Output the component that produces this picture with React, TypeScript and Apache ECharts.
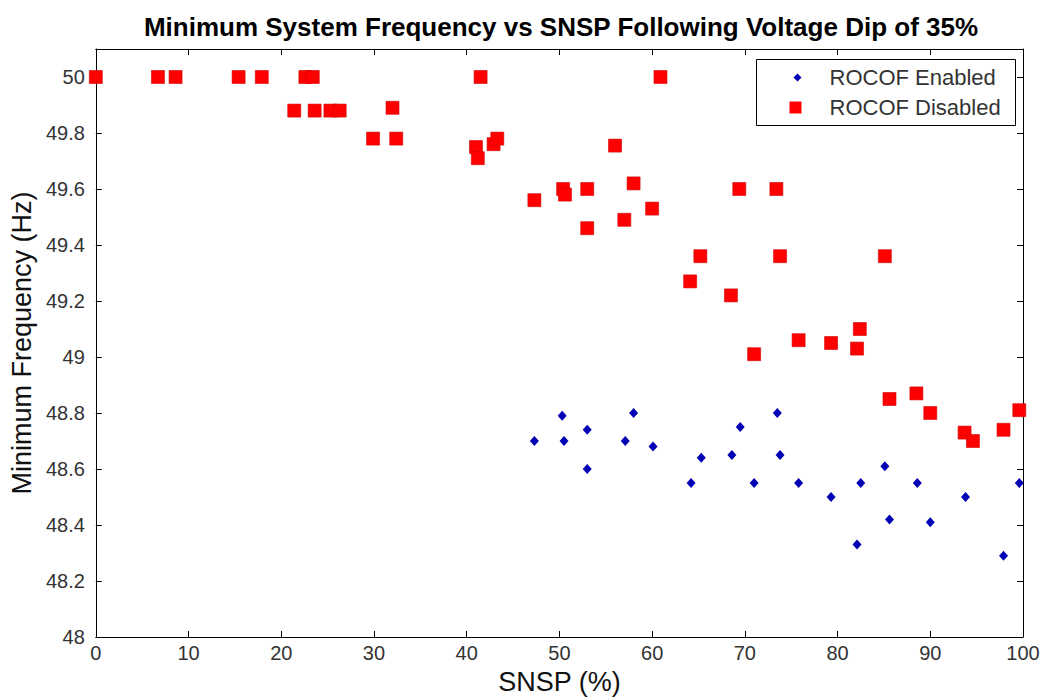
import React, { useEffect, useRef } from "react";
import * as echarts from "echarts";

const titleText = "Minimum System Frequency vs SNSP Following Voltage Dip of 35%";
const xName = "SNSP (%)";
const yName = "Minimum Frequency (Hz)";
const seriesNames = ["ROCOF Enabled", "ROCOF Disabled"];

const enabledX = [47.3, 50.3, 50.5, 53.0, 53.0, 58.0, 57.1, 60.1, 64.2, 65.3, 68.6, 69.5, 71.0, 73.5, 73.8, 75.8, 79.3, 82.1, 82.5, 85.1, 85.6, 88.6, 90.0, 93.8, 97.9, 99.6];
const enabledY = [48.70, 48.79, 48.70, 48.74, 48.60, 48.80, 48.70, 48.68, 48.55, 48.64, 48.65, 48.75, 48.55, 48.80, 48.65, 48.55, 48.50, 48.33, 48.55, 48.61, 48.42, 48.55, 48.41, 48.50, 48.29, 48.55];

const disabledX = [0, 6.7, 8.6, 15.4, 17.9, 22.6, 23.4, 21.4, 23.6, 25.3, 26.3, 32.0, 29.9, 32.4, 41.5, 60.9, 41.0, 41.2, 42.9, 43.3, 56.0, 47.3, 50.4, 50.6, 53.0, 53.0, 58.0, 57.0, 60.0, 65.2, 64.1, 68.5, 69.4, 73.4, 73.8, 85.1, 71.0, 75.8, 79.3, 82.4, 82.1, 85.6, 88.5, 90.0, 93.7, 94.6, 97.9, 99.6];
const disabledY = [50, 50, 50, 50, 50, 50, 50, 49.88, 49.88, 49.88, 49.88, 49.89, 49.78, 49.78, 50, 50, 49.75, 49.71, 49.76, 49.78, 49.755, 49.56, 49.60, 49.58, 49.60, 49.46, 49.62, 49.49, 49.53, 49.36, 49.27, 49.22, 49.60, 49.60, 49.36, 49.36, 49.01, 49.06, 49.05, 49.10, 49.03, 48.85, 48.87, 48.80, 48.73, 48.70, 48.74, 48.81];

const xMin = 0, xMax = 100, xStep = 10;
const yMin = 48, yMax = 50.1, yStep = 0.2;

const FONT = "'Liberation Sans', Arial, sans-serif";

export default function App() {
  const ref = useRef<HTMLDivElement>(null);
  useEffect(() => {
    if (!ref.current) return;
    document.body.style.margin = "0";
    const chart = echarts.init(ref.current, null, { renderer: "svg", width: 1046, height: 700 });
    const gridL = 91, gridR = 23, gridT = 49, gridB = 60;
    const tickCommon = { show: true, inside: true, length: 6, lineStyle: { color: "#000", width: 1 } };
    const lineCommon = { show: true, onZero: false, lineStyle: { color: "#000", width: 1 } };
    const yFmt = (v: number) => {
      const r = Math.round(v * 10) / 10;
      if (Math.abs(r - yMax) < 1e-6 && Math.abs(yMax * 5 - Math.round(yMax * 5)) > 1e-6) return "";
      return String(r);
    };
    const legX = 756, legY = 59, legW = 259, legH = 66;
    chart.setOption({
      animation: false,
      backgroundColor: "#fff",
      textStyle: { fontFamily: FONT },
      title: {
        text: titleText,
        left: 556,
        top: 9,
        textAlign: "center",
        textStyle: { fontFamily: FONT, fontWeight: "bold", fontSize: 26, color: "#000" },
      },
      grid: { left: gridL, right: gridR, top: gridT, bottom: gridB, containLabel: false },
      xAxis: [
        {
          type: "value", min: xMin, max: xMax, interval: xStep, position: "bottom",
          name: xName, nameLocation: "middle", nameGap: 31,
          nameTextStyle: { fontSize: 27, color: "#111", fontFamily: FONT },
          axisLine: lineCommon, axisTick: tickCommon, splitLine: { show: false },
          axisLabel: { fontSize: 20, color: "#333", margin: 6, fontFamily: FONT },
        },
        {
          type: "value", min: xMin, max: xMax, interval: xStep, position: "top",
          axisLine: lineCommon, axisTick: tickCommon, splitLine: { show: false },
          axisLabel: { show: false },
        },
      ],
      yAxis: [
        {
          type: "value", min: yMin, max: yMax, interval: yStep, position: "left",
          name: yName, nameLocation: "middle", nameGap: 55, nameRotate: 90,
          nameTextStyle: { fontSize: 27, color: "#111", fontFamily: FONT },
          axisLine: lineCommon, axisTick: tickCommon, splitLine: { show: false },
          axisLabel: { fontSize: 20, color: "#333", margin: 11, formatter: yFmt, fontFamily: FONT },
        },
        {
          type: "value", min: yMin, max: yMax, interval: yStep, position: "right",
          axisLine: lineCommon, axisTick: tickCommon, splitLine: { show: false },
          axisLabel: { show: false },
        },
      ],
      series: [
        {
          name: seriesNames[1], type: "scatter", symbol: "rect", symbolSize: 13,
          itemStyle: { color: "#ff0000", borderColor: "#d00000", borderWidth: 0.6, opacity: 1 },
          data: disabledX.map((x, i) => [x, disabledY[i]]),
          z: 2,
        },
        {
          name: seriesNames[0], type: "scatter", symbol: "diamond", symbolSize: [9, 10],
          itemStyle: { color: "#0000b4", opacity: 1 },
          data: enabledX.map((x, i) => [x, enabledY[i]]),
          z: 3,
        },
      ],
      graphic: [
        {
          type: "group", left: legX, top: legY,
          children: [
            { type: "rect", shape: { x: 0, y: 0, width: legW, height: legH }, style: { fill: "#fff", stroke: "#000", lineWidth: 1 } },
            { type: "polygon", shape: { points: [[41, 14], [45, 18], [41, 22], [37, 18]] }, style: { fill: "#0000b4" } },
            { type: "text", x: 73, y: 18, style: { text: seriesNames[0], fontSize: 22, fontFamily: FONT, fill: "#333", verticalAlign: "middle" } },
            { type: "rect", shape: { x: 33, y: 42, width: 12, height: 12 }, style: { fill: "#ff0000" } },
            { type: "text", x: 73, y: 48, style: { text: seriesNames[1], fontSize: 22, fontFamily: FONT, fill: "#333", verticalAlign: "middle" } },
          ],
        },
      ],
    });
    return () => chart.dispose();
  }, []);
  return <div ref={ref} style={{ position: "absolute", left: 0, top: 0, width: 1046, height: 700 }} />;
}
